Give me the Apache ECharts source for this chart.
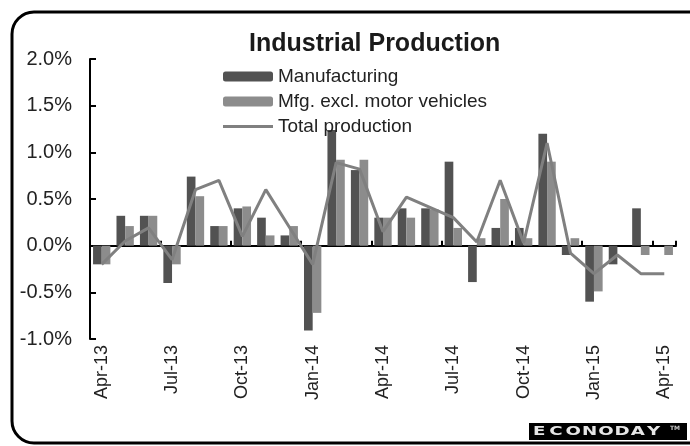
<!DOCTYPE html>
<html>
<head>
<meta charset="utf-8">
<script src="https://cdn.jsdelivr.net/npm/echarts@6/dist/echarts.min.js"></script>
<style>
html,body{margin:0;padding:0;background:#fff;}
#chart{width:690px;height:446px;}
</style>
</head>
<body>
<div id="chart"></div>
<script>
let months=["Apr-13","May-13","Jun-13","Jul-13","Aug-13","Sep-13","Oct-13","Nov-13","Dec-13","Jan-14","Feb-14","Mar-14","Apr-14","May-14","Jun-14","Jul-14","Aug-14","Sep-14","Oct-14","Nov-14","Dec-14","Jan-15","Feb-15","Mar-15","Apr-15"];
let manufacturing=[-0.2,0.32,0.32,-0.4,0.74,0.21,0.4,0.3,0.11,-0.91,1.24,0.81,0.3,0.4,0.4,0.9,-0.39,0.19,0.19,1.2,-0.1,-0.6,-0.2,0.4,0.0];
let mfgExMotor=[-0.2,0.21,0.32,-0.2,0.53,0.21,0.42,0.11,0.21,-0.72,0.92,0.92,0.3,0.3,0.39,0.19,0.08,0.5,0.08,0.9,0.08,-0.49,0.0,-0.1,-0.1];
let totalProduction=[-0.2,0.05,0.19,-0.15,0.6,0.7,0.1,0.6,0.2,-0.2,0.89,0.82,0.15,0.52,0.41,0.3,0.04,0.7,0.03,1.1,-0.08,-0.3,-0.1,-0.3,-0.3];

let chart=echarts.init(document.getElementById('chart'));

// econoday logo, one letter at a time
let logoText="ECONODAY";
let logo=[{
	type:"rect",
	shape:{x:529,y:423,width:158,height:17},
	style:{fill:"#000"},
}];
for(let i=0;i<logoText.length;i++){
	logo.push({
		type:"text",
		x:533+i*16.3,
		y:432,
		scaleX:1.4,
		style:{text:logoText[i],fill:"#e6e6e6",font:"bold 13px 'DejaVu Sans'",verticalAlign:"middle",align:"left"},
	});
}
logo.push({
	type:"text",x:675,y:428,
	style:{text:"TM",fill:"#ccc",font:"bold 6px 'DejaVu Sans'",verticalAlign:"middle",align:"center"},
});

chart.setOption({
	animation:false,
	textStyle:{fontFamily:"'Liberation Sans', Arial, sans-serif"},
	title:{
		text:"Industrial Production",
		left:244,
		top:27,
		textStyle:{fontSize:25,fontWeight:"bold",color:"#1a1a1a"},
	},
	legend:{
		orient:"vertical",
		left:218,
		top:61,
		itemWidth:50,
		itemHeight:10,
		itemGap:4,
		textStyle:{fontSize:19,color:"#222",lineHeight:21},
		data:[
			{name:"Manufacturing"},
			{name:"Mfg. excl. motor vehicles"},
			{name:"Total production",icon:"path://M0,0 L50,0 L50,3 L0,3 Z"},
		],
	},
	grid:{left:90,right:14,top:59,bottom:107},
	xAxis:[{
		type:"category",
		data:months,
		position:"bottom",
		axisLine:{onZero:true,lineStyle:{color:"#000",width:2}},
		axisTick:{show:true,inside:true,interval:2,length:5,lineStyle:{color:"#000",width:2}},
		axisLabel:{show:false},
	},{
		type:"category",
		data:months,
		position:"bottom",
		axisLine:{show:false,onZero:false},
		axisTick:{show:false},
		axisLabel:{interval:2,rotate:90,margin:6,fontSize:18,color:"#222"},
	}],
	yAxis:{
		type:"value",
		min:-1,
		max:2,
		interval:0.5,
		axisLine:{show:true,lineStyle:{color:"#000",width:2}},
		axisTick:{show:true,inside:true,length:6,lineStyle:{color:"#000",width:2}},
		splitLine:{show:false},
		axisLabel:{
			margin:18,
			fontSize:20,
			color:"#222",
			formatter:function(v){return v.toFixed(1)+"%";},
		},
	},
	series:[{
		name:"Manufacturing",
		type:"bar",
		data:manufacturing,
		barGap:"0%",
		barCategoryGap:"26%",
		itemStyle:{color:"#525252"},
	},{
		name:"Mfg. excl. motor vehicles",
		type:"bar",
		data:mfgExMotor,
		itemStyle:{color:"#8c8c8c"},
	},{
		name:"Total production",
		type:"line",
		data:totalProduction,
		symbol:"none",
		z:5,
		lineStyle:{color:"#808080",width:3},
		itemStyle:{color:"#808080"},
	}],
	graphic:[{
		type:"rect",
		shape:{x:12,y:12,width:720,height:431,r:22},
		style:{fill:"none",stroke:"#000",lineWidth:3},
	}].concat(logo),
});
</script>
</body>
</html>
